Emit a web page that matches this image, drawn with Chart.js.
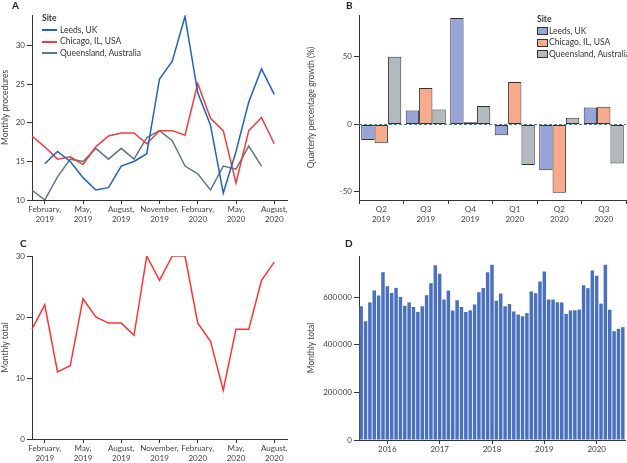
<!DOCTYPE html>
<html>
<head>
<meta charset="utf-8">
<script src="https://cdn.jsdelivr.net/npm/chart.js@4.4.1/dist/chart.umd.min.js"></script>
<style>
  body { margin: 0; background: #fff; }
  #fig { position: relative; width: 627px; height: 463px; overflow: hidden; font-family: Lato, sans-serif; }
  .panel { position: absolute; }
  .letter { position: absolute; font: bold 10px Lato, sans-serif; color: #222; line-height: 10px; }
  .legend { position: absolute; font-size: 8.5px; color: #333; line-height: 11.5px; white-space: nowrap; }
  .legend .title { font-weight: bold; }
  .legend .ln { display: inline-block; width: 15px; height: 2px; vertical-align: middle; margin-right: 3px; }
  .legend .bx { display: inline-block; width: 9px; height: 6px; border: 1px solid #333; vertical-align: middle; margin-right: 1px; }
</style>
</head>
<body>
<div id="fig">
  <canvas id="chartA" class="panel" width="300" height="230" style="left:0;top:0"></canvas>
  <canvas id="chartB" class="panel" width="327" height="230" style="left:300px;top:0"></canvas>
  <canvas id="chartC" class="panel" width="300" height="231" style="left:0;top:232px"></canvas>
  <canvas id="chartD" class="panel" width="327" height="231" style="left:300px;top:232px"></canvas>
  <div class="letter" style="left:12px;top:0">A</div>
  <div class="letter" style="left:346px;top:0">B</div>
  <div class="letter" style="left:20px;top:238px">C</div>
  <div class="letter" style="left:345px;top:238px">D</div>
  <div id="legendA" class="legend" style="left:42px;top:13px"></div>
  <div id="legendB" class="legend" style="left:537px;top:14px"></div>
</div>
<script>
// ---- data ----
const sites = ['Leeds, UK', 'Chicago, IL, USA', 'Queensland, Australia'];

// panels A and C: Jan 2019 .. Sep 2020
const months = ['Jan 2019', 'Feb 2019', 'Mar 2019', 'Apr 2019', 'May 2019', 'Jun 2019', 'Jul 2019',
  'Aug 2019', 'Sep 2019', 'Oct 2019', 'Nov 2019', 'Dec 2019', 'Jan 2020', 'Feb 2020', 'Mar 2020',
  'Apr 2020', 'May 2020', 'Jun 2020', 'Jul 2020', 'Aug 2020', 'Sep 2020'];
const tickMonths = ['Feb 2019', 'May 2019', 'Aug 2019', 'Nov 2019', 'Feb 2020', 'May 2020', 'Aug 2020'];
const monthTickLabels = [['February,', '2019'], ['May,', '2019'], ['August,', '2019'], ['November,', '2019'],
  ['February,', '2020'], ['May,', '2020'], ['August,', '2020']];

const leedsMonthly = [null, 14.7, 16.3, 15.0, 12.9, 11.3, 11.6, 14.4, 15.0, 16.0, 25.7, 28.0, 33.8,
  23.9, 19.7, 10.9, 16.3, 22.7, 27.0, 23.7, null];
const chicagoMonthly = [18.3, 16.9, 15.3, 15.6, 14.6, 16.9, 18.3, 18.7, 18.7, 17.3, 19.0, 19.0, 18.4,
  25.1, 20.6, 19.0, 12.2, 19.0, 20.7, 17.3, null];
const queenslandMonthly = [11.3, 10.0, 13.0, 15.3, 15.0, 16.7, 15.3, 16.7, 15.3, 18.1, 19.0, 17.7, 14.4,
  13.4, 11.3, 14.4, 14.0, 17.0, 14.4, null, null];
const aYTicks = [10, 15, 20, 25, 30];

// panel B
const quarters = [['Q2', '2019'], ['Q3', '2019'], ['Q4', '2019'], ['Q1', '2020'], ['Q2', '2020'], ['Q3', '2020']];
const leedsGrowth = [-11.5, 10.3, 78.7, -8, -34, 12.5];
const chicagoGrowth = [-14, 27, 1.5, 31.4, -50.7, 13];
const queenslandGrowth = [50, 11, 13.7, -30, 4.9, -29];
const bYTicks = [-50, 0, 50];

// panel C
const totalMonthly = [18, 22, 11, 12, 23, 20, 19, 19, 17, 30, 26, 30, 30, 19, 16, 8, 18, 18, 26, 29, null];
const cYTicks = [0, 10, 20, 30];

// panel D: Jul 2015 .. Jul 2020
const dStart = [2015, 7];
const dTotals = [562, 499, 578, 628, 607, 705, 646, 618, 639, 601,
  564, 578, 559, 538, 562, 608, 659, 734, 698, 590,
  628, 544, 587, 559, 538, 545, 569, 621, 639, 705,
  736, 585, 615, 562, 571, 540, 527, 520, 533, 624,
  617, 666, 708, 590, 590, 579, 578, 530, 544, 545,
  548, 650, 638, 712, 690, 573, 736, 547, 457, 467, 474].map(v => v * 1000);
const dYTicks = [0, 200000, 400000, 600000];

// ---- styling ----
const INK = '#333';
const TXT = '#444';
const lineColors = ['#2062c2', '#f23c3c', '#5b7a82'];
const barColors = ['#99a5d8', '#f8aa8d', '#b3babe'];

Chart.defaults.font.family = 'Lato, sans-serif';
Chart.defaults.font.size = 8;
Chart.defaults.color = TXT;
Chart.defaults.animation = false;

const dMonths = [];
for (let i = 0; i < dTotals.length; i++) {
  const m = dStart[1] - 1 + i;
  dMonths.push((dStart[0] + Math.floor(m / 12)) + '-' + String(m % 12 + 1).padStart(2, '0'));
}

function fixedTicks(list) {
  return s => { s.ticks = list.map(v => ({ value: v })); };
}

function yAxis(title, width, ticks, min, max, titlePad, fmt) {
  return {
    min, max,
    afterBuildTicks: fixedTicks(ticks),
    afterFit: s => { s.width = width; },
    border: { display: true, color: INK, width: 1 },
    grid: { drawOnChartArea: false, drawTicks: true, tickLength: 5, tickColor: INK },
    ticks: { padding: 2, font: { size: 8 }, color: TXT, callback: fmt || (v => v) },
    title: { display: true, text: title, color: TXT, font: { size: 8.5 }, padding: { top: titlePad, bottom: 0 } },
  };
}

function xAxis(height, cb, opts) {
  return Object.assign({
    afterFit: s => { s.height = height; },
    border: { display: true, color: INK, width: 1 },
    grid: { drawOnChartArea: false, drawTicks: true, tickLength: 4, tickColor: INK },
    ticks: { padding: 1, autoSkip: false, maxRotation: 0, font: { size: 8 }, color: TXT, callback: cb },
  }, opts || {});
}

const monthTick = (v, i) => {
  const k = tickMonths.indexOf(months[i]);
  return k < 0 ? null : monthTickLabels[k];
};

const baseOpts = { responsive: false, devicePixelRatio: 1 };

// ---- A ----
new Chart(document.getElementById('chartA'), {
  type: 'line',
  data: {
    labels: months,
    datasets: [leedsMonthly, chicagoMonthly, queenslandMonthly].map((d, i) => ({
      label: sites[i], data: d, borderColor: lineColors[i], borderWidth: 1.5, pointRadius: 0, tension: 0,
    })),
  },
  options: Object.assign({}, baseOpts, {
    layout: { padding: { top: 15, right: 13, left: 0, bottom: 0 } },
    plugins: { legend: { display: false }, tooltip: { enabled: false } },
    scales: {
      x: xAxis(30, monthTick, { offset: false }),
      y: yAxis('Monthly procedures', 32, aYTicks, 10, 34, 0),
    },
  }),
});

// ---- B ----
const zeroLine = {
  id: 'zeroLine',
  afterDatasetsDraw(chart) {
    const y = chart.scales.y.getPixelForValue(0);
    const { left, right } = chart.chartArea;
    const ctx = chart.ctx;
    ctx.save();
    ctx.strokeStyle = '#3d8e9c';
    ctx.lineWidth = 1;
    ctx.setLineDash([3, 2]);
    ctx.beginPath();
    ctx.moveTo(left, Math.round(y) + 0.5);
    ctx.lineTo(right, Math.round(y) + 0.5);
    ctx.stroke();
    ctx.restore();
  },
};

new Chart(document.getElementById('chartB'), {
  type: 'bar',
  data: {
    labels: quarters,
    datasets: [leedsGrowth, chicagoGrowth, queenslandGrowth].map((d, i) => ({
      label: sites[i], data: d, backgroundColor: barColors[i], borderColor: INK, borderWidth: 1,
      borderSkipped: false, categoryPercentage: 0.9, barPercentage: 1,
    })),
  },
  options: Object.assign({}, baseOpts, {
    layout: { padding: { top: 15, right: 1, left: 0, bottom: 0 } },
    plugins: { legend: { display: false }, tooltip: { enabled: false } },
    scales: {
      x: xAxis(30, (v, i) => quarters[i]),
      y: yAxis('Quarterly percentage growth (%)', 59, bYTicks, -56, 81, 6),
    },
  }),
  plugins: [zeroLine],
});

// ---- C ----
new Chart(document.getElementById('chartC'), {
  type: 'line',
  data: {
    labels: months,
    datasets: [{ label: 'Monthly total', data: totalMonthly, borderColor: '#ff3434', borderWidth: 1.5, pointRadius: 0, tension: 0 }],
  },
  options: Object.assign({}, baseOpts, {
    layout: { padding: { top: 24, right: 13, left: 0, bottom: 0 } },
    plugins: { legend: { display: false }, tooltip: { enabled: false } },
    scales: {
      x: xAxis(24, monthTick, { offset: false }),
      y: yAxis('Monthly total', 32, cYTicks, 0, 30, 0),
    },
  }),
});

// ---- D ----
new Chart(document.getElementById('chartD'), {
  type: 'bar',
  data: {
    labels: dMonths,
    datasets: [{ label: 'Monthly total', data: dTotals, backgroundColor: '#4a71bf', borderWidth: 0,
      categoryPercentage: 1, barPercentage: 0.8 }],
  },
  options: Object.assign({}, baseOpts, {
    layout: { padding: { top: 24, right: 2, left: 0, bottom: 0 } },
    plugins: { legend: { display: false }, tooltip: { enabled: false } },
    scales: {
      x: xAxis(23, (v, i) => dMonths[i].endsWith('-01') ? dMonths[i].slice(0, 4) : null,
        { grid: { drawOnChartArea: false, drawTicks: true, tickLength: 4, tickColor: INK, offset: false } }),
      y: yAxis('Monthly total', 59, dYTicks, 0, 773000, 6,
        v => v === 0 ? '0' : String(v).replace(/\B(?=(\d{3})+$)/g, '\u2009')),
    },
  }),
});

// ---- legends ----
document.getElementById('legendA').innerHTML = '<div class="title">Site</div>' +
  sites.map((s, i) => `<div><span class="ln" style="background:${lineColors[i]}"></span>${s}</div>`).join('');
document.getElementById('legendB').innerHTML = '<div class="title">Site</div>' +
  sites.map((s, i) => `<div><span class="bx" style="background:${barColors[i]}"></span>${s}</div>`).join('');
</script>
</body>
</html>
